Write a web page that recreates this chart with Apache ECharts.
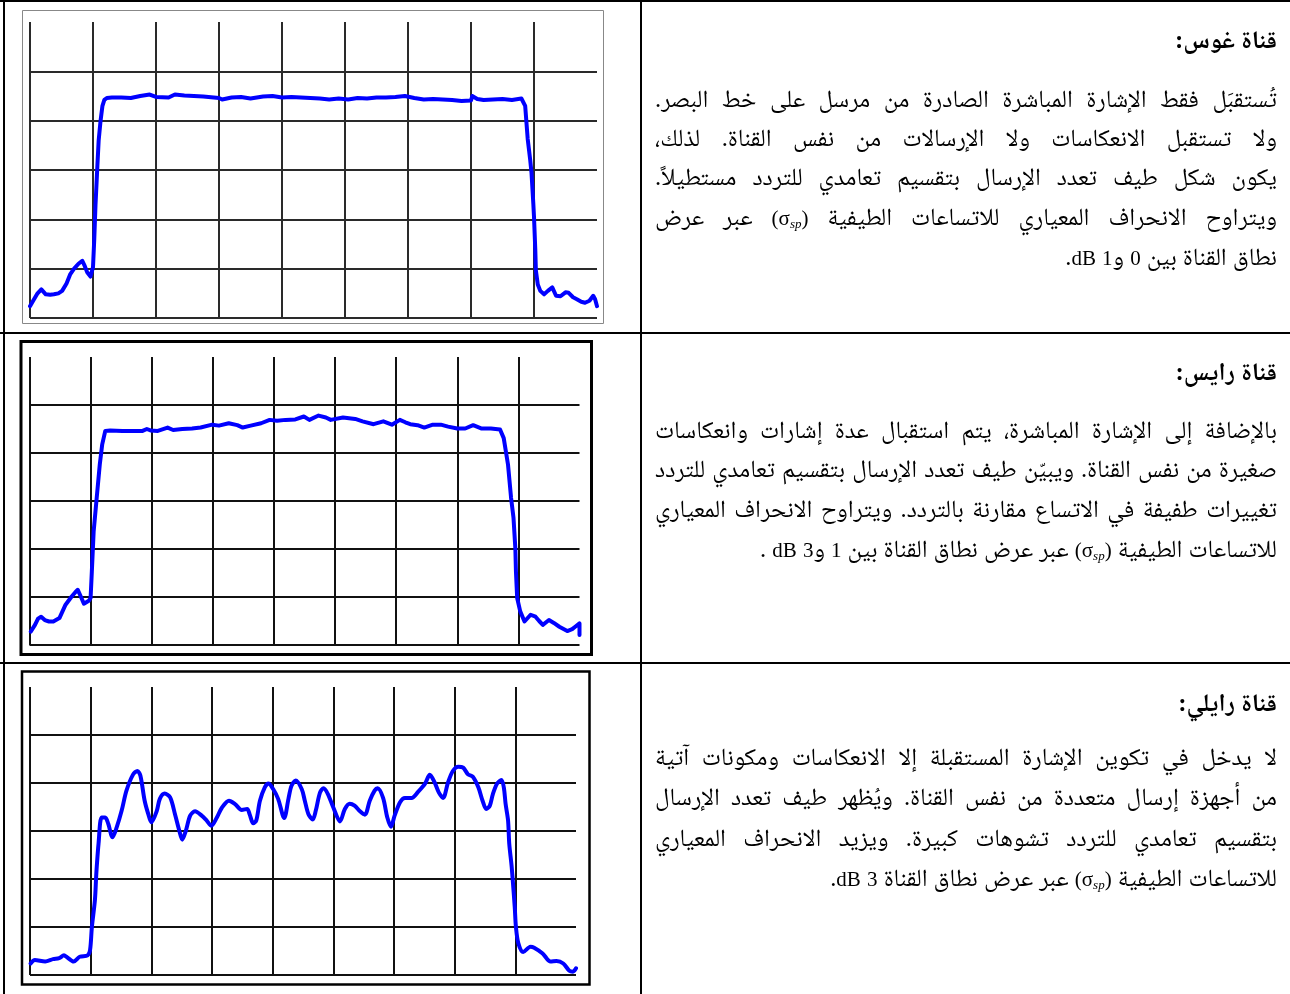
<!DOCTYPE html>
<html lang="ar">
<head>
<meta charset="utf-8">
<script src="https://cdn.jsdelivr.net/npm/echarts@6/dist/echarts.min.js"></script>
<style>
html,body{margin:0;padding:0;background:#fff;width:1290px;height:994px;overflow:hidden;}
#chart{position:absolute;left:0;top:0;width:1290px;height:994px;}
.txt{position:absolute;direction:rtl;color:#000;white-space:nowrap;
  font-family:"Liberation Serif","Noto Naskh Arabic","Noto Sans Arabic","DejaVu Sans",serif;
  font-size:26px;line-height:40px;height:40px;left:655px;width:622px;}
.title{font-weight:bold;font-size:25px;text-align:right;}
.just{text-align:justify;text-align-last:justify;}
.last{text-align:right;}
.measure{text-align:right;text-align-last:auto;}
.lat{font-family:"Liberation Serif",serif;font-size:21px;}
sub{font-style:italic;font-size:0.62em;vertical-align:-0.25em;line-height:0;}
</style>
</head>
<body>
<div id="chart"></div>
<div id="texts"></div>
<script>
// ---------- data (x in frequency divisions, y in level divisions) ----------
const gaussFreq = [0,0.05,0.12,0.18,0.25,0.32,0.38,0.45,0.51,0.58,0.64,0.70,0.77,0.83,0.87,0.91,0.96,1.00,1.02,1.04,1.07,1.09,1.12,1.15,1.18,1.22,
  1.30,1.45,1.60,1.75,1.90,2.00,2.20,2.30,2.45,2.60,2.75,3.00,3.05,3.20,3.35,3.50,3.70,3.85,4.00,4.15,4.30,4.45,4.60,4.75,4.90,5.05,5.20,5.35,5.50,5.65,5.80,5.95,6.10,6.25,6.40,6.55,6.70,6.85,7.00,7.02,7.10,7.20,7.35,7.50,7.65,7.80,
  7.86,7.90,7.94,7.96,7.99,8.00,8.02,8.03,8.06,8.10,8.16,8.22,8.29,8.35,8.42,8.50,8.55,8.62,8.68,8.75,8.81,8.88,8.94,8.97,9.00];
const gaussLevel = [0.24,0.35,0.50,0.58,0.48,0.47,0.48,0.50,0.55,0.70,0.89,1.00,1.10,1.16,1.05,0.92,0.84,1.03,1.60,2.30,3.10,3.60,4.00,4.30,4.42,4.46,
  4.47,4.47,4.46,4.50,4.53,4.48,4.47,4.53,4.51,4.50,4.49,4.46,4.43,4.47,4.48,4.45,4.49,4.50,4.47,4.48,4.47,4.46,4.45,4.43,4.45,4.43,4.46,4.45,4.47,4.47,4.48,4.50,4.46,4.43,4.44,4.43,4.42,4.40,4.41,4.50,4.44,4.42,4.43,4.44,4.42,4.45,
  4.30,3.63,3.20,2.95,2.30,2.05,1.40,0.96,0.68,0.55,0.48,0.55,0.62,0.45,0.44,0.52,0.51,0.42,0.38,0.33,0.31,0.35,0.45,0.38,0.24];

const riceFreq = [0.02,0.09,0.14,0.19,0.25,0.32,0.39,0.49,0.59,0.69,0.75,0.79,0.85,0.89,0.92,0.97,1.00,1.02,1.05,1.10,1.15,1.19,1.24,1.32,1.52,1.70,1.85,1.92,1.98,2.10,2.26,2.35,2.50,2.66,2.80,2.99,3.10,3.26,3.40,3.49,3.62,3.79,3.93,4.05,4.19,4.35,4.49,4.58,4.73,4.85,4.93,5.13,5.33,5.45,5.63,5.79,5.93,6.06,6.15,6.23,6.35,6.46,6.60,6.73,6.85,7.00,7.13,7.26,7.40,7.55,7.70,7.76,7.83,7.88,7.92,7.95,7.96,7.98,8.03,8.10,8.20,8.28,8.34,8.40,8.50,8.58,8.67,8.80,8.88,8.93,9.00,9.00];
const riceLevel = [0.28,0.42,0.55,0.59,0.52,0.49,0.49,0.56,0.84,1.01,1.10,1.15,0.98,0.86,0.84,0.92,0.98,1.53,2.37,3.07,3.76,4.18,4.46,4.47,4.46,4.46,4.46,4.50,4.47,4.46,4.53,4.48,4.50,4.51,4.53,4.59,4.57,4.62,4.58,4.53,4.57,4.62,4.69,4.67,4.69,4.70,4.76,4.69,4.78,4.74,4.69,4.74,4.71,4.66,4.60,4.66,4.59,4.69,4.64,4.60,4.58,4.53,4.59,4.59,4.55,4.51,4.51,4.58,4.51,4.51,4.49,4.31,3.76,3.07,2.65,2.02,1.53,0.98,0.70,0.49,0.63,0.59,0.50,0.42,0.52,0.46,0.38,0.29,0.33,0.38,0.45,0.21];

const rayleighFreq = [0.01,0.08,0.25,0.38,0.48,0.56,0.61,0.72,0.82,0.95,0.99,1.02,1.07,1.09,1.10,1.13,1.18,1.24,1.29,1.36,1.43,1.51,1.59,1.70,1.77,1.82,1.89,1.95,2.00,2.09,2.14,2.22,2.31,2.39,2.46,2.51,2.57,2.64,2.72,2.83,2.91,2.99,3.08,3.16,3.28,3.38,3.49,3.58,3.62,3.68,3.73,3.79,3.87,3.93,4.01,4.09,4.19,4.26,4.31,4.38,4.48,4.53,4.59,4.66,4.71,4.78,4.84,4.91,5.00,5.11,5.19,5.27,5.35,5.44,5.52,5.60,5.68,5.73,5.82,5.89,5.95,6.01,6.10,6.18,6.29,6.40,6.51,6.59,6.67,6.74,6.81,6.89,6.97,7.06,7.14,7.22,7.30,7.39,7.46,7.52,7.58,7.63,7.70,7.77,7.81,7.84,7.88,7.90,7.94,7.99,8.01,8.05,8.13,8.25,8.31,8.45,8.58,8.68,8.79,8.89,8.95,9.00];
const rayleighLevel = [0.24,0.31,0.28,0.33,0.35,0.41,0.37,0.28,0.38,0.41,0.52,1.00,1.56,2.04,2.25,2.74,3.28,3.28,3.15,2.87,3.08,3.42,3.84,4.18,4.25,4.15,3.63,3.35,3.18,3.42,3.67,3.78,3.70,3.35,3.01,2.82,3.01,3.32,3.41,3.32,3.22,3.11,3.28,3.48,3.63,3.56,3.44,3.46,3.35,3.16,3.22,3.63,3.91,3.99,3.87,3.67,3.27,3.67,3.94,4.05,3.87,3.63,3.35,3.24,3.42,3.80,3.89,3.77,3.49,3.20,3.46,3.57,3.53,3.41,3.34,3.63,3.84,3.89,3.69,3.28,3.09,3.32,3.60,3.69,3.69,3.82,3.98,4.17,4.01,3.80,3.69,4.01,4.25,4.34,4.32,4.18,4.13,3.91,3.63,3.46,3.53,3.77,3.99,4.06,3.91,3.56,3.22,2.73,2.25,1.42,1.00,0.66,0.48,0.59,0.57,0.45,0.28,0.29,0.24,0.09,0.07,0.14];

const freqTicks = [0,1,2,3,4,5,6,7,8,9];
const levelTicks = [0,1,2,3,4,5,6];

// ---------- texts ----------
const titles = ['قناة غوس:', 'قناة رايس:', 'قناة رايلي:'];
const SIG = '<span class="lat">(σ<sub>sp</sub>)</span>';
const paragraphs = [
  ['تُستقبَل فقط الإشارة المباشرة الصادرة من مرسل على خط البصر.',
   'ولا تستقبل الانعكاسات ولا الإرسالات من نفس القناة. لذلك،',
   'يكون شكل طيف تعدد الإرسال بتقسيم تعامدي للتردد مستطيلاً.',
   'ويتراوح الانحراف المعياري للاتساعات الطيفية ' + SIG + ' عبر عرض',
   'نطاق القناة بين 0 و1 dB.'],
  ['بالإضافة إلى الإشارة المباشرة، يتم استقبال عدة إشارات وانعكاسات',
   'صغيرة من نفس القناة. ويبيّن طيف تعدد الإرسال بتقسيم تعامدي للتردد',
   'تغييرات طفيفة في الاتساع مقارنة بالتردد. ويتراوح الانحراف المعياري',
   'للاتساعات الطيفية ' + SIG + ' عبر عرض نطاق القناة بين 1 و3 dB .'],
  ['لا يدخل في تكوين الإشارة المستقبلة إلا الانعكاسات ومكونات آتية',
   'من أجهزة إرسال متعددة من نفس القناة. ويُظهر طيف تعدد الإرسال',
   'بتقسيم تعامدي للتردد تشوهات كبيرة. ويزيد الانحراف المعياري',
   'للاتساعات الطيفية ' + SIG + ' عبر عرض نطاق القناة 3 dB.']
];
const titleY = [40, 372, 703];
const lineY = [[99,138,177,217,257],[430,469,509,549],[757,797,838,878]];

const host = document.getElementById('texts');
const bodyLines = [];
titles.forEach((t, i) => {
  const d = document.createElement('div');
  d.className = 'txt title';
  d.style.top = (titleY[i] - 20) + 'px';
  d.textContent = t;
  host.appendChild(d);
  paragraphs[i].forEach((ln, j) => {
    const e = document.createElement('div');
    e.className = 'txt measure';
    e.style.top = (lineY[i][j] - 20) + 'px';
    const html = ln.replace(/(^|[^>\w])([0-9]+|dB)(?![^<]*<\/sub>)/g, '$1<span class="lat">$2</span>');
    e.innerHTML = '<span>' + html + '</span>';
    host.appendChild(e);
    bodyLines.push({el: e, last: j === paragraphs[i].length - 1});
  });
});
// one common body size: largest size at which every justified line fits
let fs = 26;
const fits = () => bodyLines.every(b => b.last || b.el.firstChild.getBoundingClientRect().width <= 618);
while (!fits() && fs > 12) {
  fs -= 0.5;
  bodyLines.forEach(b => b.el.style.fontSize = fs + 'px');
}
bodyLines.forEach(b => b.el.className = 'txt ' + (b.last ? 'last' : 'just'));

// ---------- chart ----------
const zip = (xs, ys) => xs.map((x, k) => [x, ys[k]]);
const grids = [
  {left: 30, top: 22, width: 567, height: 296},
  {left: 29.5, top: 357, width: 550, height: 288},
  {left: 30, top: 687, width: 546, height: 288}
];
const gridColors = ['#2a2a2a', '#111111', '#111111'];
const series = [zip(gaussFreq, gaussLevel), zip(riceFreq, riceLevel), zip(rayleighFreq, rayleighLevel)];

const xAxes = grids.map((g, i) => ({
  gridIndex: i, type: 'value', min: freqTicks[0], max: freqTicks[freqTicks.length - 1], interval: 1,
  axisLine: {show: false}, axisTick: {show: false}, axisLabel: {show: false},
  splitLine: {show: true, showMinLine: true, showMaxLine: false, lineStyle: {color: gridColors[i], width: 2}}
}));
const yAxes = grids.map((g, i) => ({
  gridIndex: i, type: 'value', min: levelTicks[0], max: levelTicks[levelTicks.length - 1], interval: 1,
  axisLine: {show: false}, axisTick: {show: false}, axisLabel: {show: false},
  splitLine: {show: true, showMinLine: true, showMaxLine: false, lineStyle: {color: gridColors[i], width: 2}}
}));

const chart = echarts.init(document.getElementById('chart'), null, {renderer: 'canvas', width: 1290, height: 994});
chart.setOption({
  animation: false,
  backgroundColor: '#fff',
  grid: grids.map(g => Object.assign({containLabel: false, show: false}, g)),
  xAxis: xAxes,
  yAxis: yAxes,
  series: series.map((d, i) => ({
    type: 'line', xAxisIndex: i, yAxisIndex: i, data: d,
    showSymbol: false, clip: false, smooth: i === 2 ? 0.3 : false,
    lineStyle: {color: '#0000ff', width: 4, join: 'round', cap: 'round'},
    z: 5
  })),
  graphic: [
    // table rules
    {type: 'rect', shape: {x: 0, y: 0, width: 1290, height: 2}, style: {fill: '#000'}, silent: true},
    {type: 'rect', shape: {x: 3, y: 0, width: 2, height: 994}, style: {fill: '#000'}, silent: true},
    {type: 'rect', shape: {x: 640, y: 0, width: 2, height: 994}, style: {fill: '#000'}, silent: true},
    {type: 'rect', shape: {x: 0, y: 332, width: 1290, height: 2}, style: {fill: '#000'}, silent: true},
    {type: 'rect', shape: {x: 0, y: 662, width: 1290, height: 2}, style: {fill: '#000'}, silent: true},
    // chart frames
    {type: 'rect', shape: {x: 22.5, y: 10.5, width: 581, height: 313}, style: {fill: 'none', stroke: '#888', lineWidth: 1}, silent: true},
    {type: 'rect', shape: {x: 21, y: 341.5, width: 570.5, height: 313}, style: {fill: 'none', stroke: '#000', lineWidth: 3}, silent: true},
    {type: 'rect', shape: {x: 22, y: 671.5, width: 567.5, height: 313}, style: {fill: 'none', stroke: '#000', lineWidth: 2.5}, silent: true}
  ]
});
</script>
</body>
</html>
